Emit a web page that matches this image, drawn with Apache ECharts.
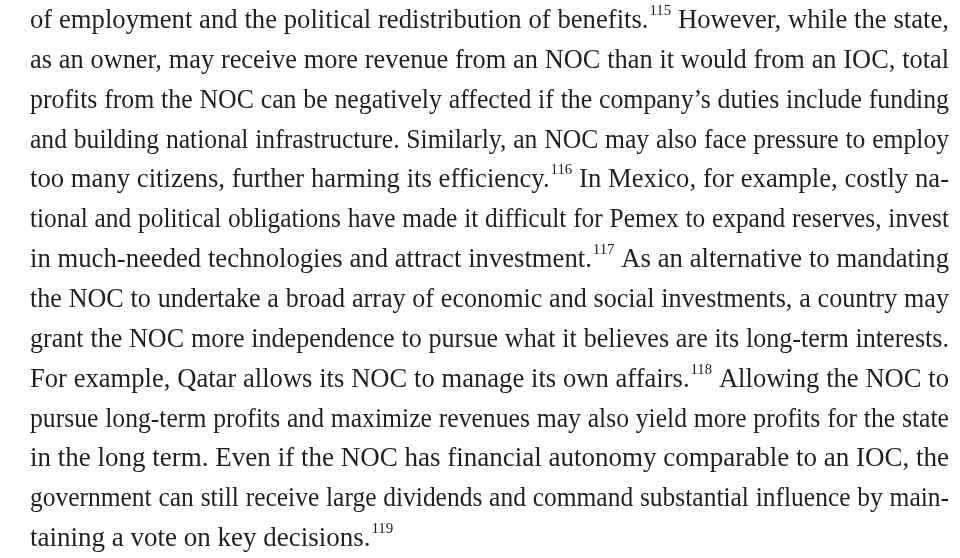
<!DOCTYPE html>
<html><head><meta charset="utf-8">
<script src="https://cdn.jsdelivr.net/npm/echarts@6/dist/echarts.min.js"></script>
<style>html,body{margin:0;background:#fff}#c{width:960px;height:558px}</style>
</head><body><div id="c"></div>
<script>
// Text lines of the paragraph; "^" marks a superscript footnote number
const lines = [
  "of employment and the political redistribution of benefits.^115 However, while the state,",
  "as an owner, may receive more revenue from an NOC than it would from an IOC, total",
  "profits from the NOC can be negatively affected if the company\u2019s duties include funding",
  "and building national infrastructure. Similarly, an NOC may also face pressure to employ",
  "too many citizens, further harming its efficiency.^116 In Mexico, for example, costly na-",
  "tional and political obligations have made it difficult for Pemex to expand reserves, invest",
  "in much-needed technologies and attract investment.^117 As an alternative to mandating",
  "the NOC to undertake a broad array of economic and social investments, a country may",
  "grant the NOC more independence to pursue what it believes are its long-term interests.",
  "For example, Qatar allows its NOC to manage its own affairs.^118 Allowing the NOC to",
  "pursue long-term profits and maximize revenues may also yield more profits for the state",
  "in the long term. Even if the NOC has financial autonomy comparable to an IOC, the",
  "government can still receive large dividends and command substantial influence by main-",
  "taining a vote on key decisions.^119"
];
const footnotes = ["115","116","117","118","119"];

const LEFT = 30, RIGHT = 949, TOP = 21, STEP = 39.85;
const FS = 27, SUPFS = 15, FAMILY = '"Liberation Serif", "DejaVu Serif", serif';
const MINGAP = 6.8;
const COLOR = '#231f20';
const mainFont = FS + 'px ' + FAMILY;
const supFont = SUPFS + 'px ' + FAMILY;

const cv = document.createElement('canvas').getContext('2d');
function w(t, f){ cv.font = f; return cv.measureText(t).width; }

const elements = [];
lines.forEach(function(line, li){
  const toks = line.split(' ').map(function(t){
    const p = t.split('^');
    const mw = w(p[0], mainFont);
    const sw = p[1] ? w(p[1], supFont) + 1 : 0;
    return {main: p[0], sup: p[1], mw: mw, sw: sw, tw: mw + sw};
  });
  const total = toks.reduce(function(a, t){ return a + t.tw; }, 0);
  const last = li === lines.length - 1;
  const avail = RIGHT - LEFT;
  let s = 1, gap;
  if (last) {
    gap = w(' ', mainFont);
  } else {
    gap = (avail - total) / (toks.length - 1);
    if (gap < MINGAP) {
      s = (avail - MINGAP * (toks.length - 1)) / total;
      gap = MINGAP;
    }
  }
  let x = LEFT;
  const y = TOP + li * STEP;
  toks.forEach(function(t){
    elements.push({type:'text', x: x, y: y, scaleX: s, silent: true,
      style:{text: t.main, font: mainFont, fill: COLOR, verticalAlign:'middle', align:'left'}});
    if (t.sup) {
      elements.push({type:'text', x: x + (t.mw + 1) * s, y: y - 10, scaleX: s, silent: true,
        style:{text: t.sup, font: supFont, fill: COLOR, verticalAlign:'middle', align:'left'}});
    }
    x += t.tw * s + gap;
  });
});

const chart = echarts.init(document.getElementById('c'), null, {renderer:'canvas'});
chart.setOption({backgroundColor:'#ffffff', animation:false, graphic:{elements: elements}});
</script>
</body></html>
